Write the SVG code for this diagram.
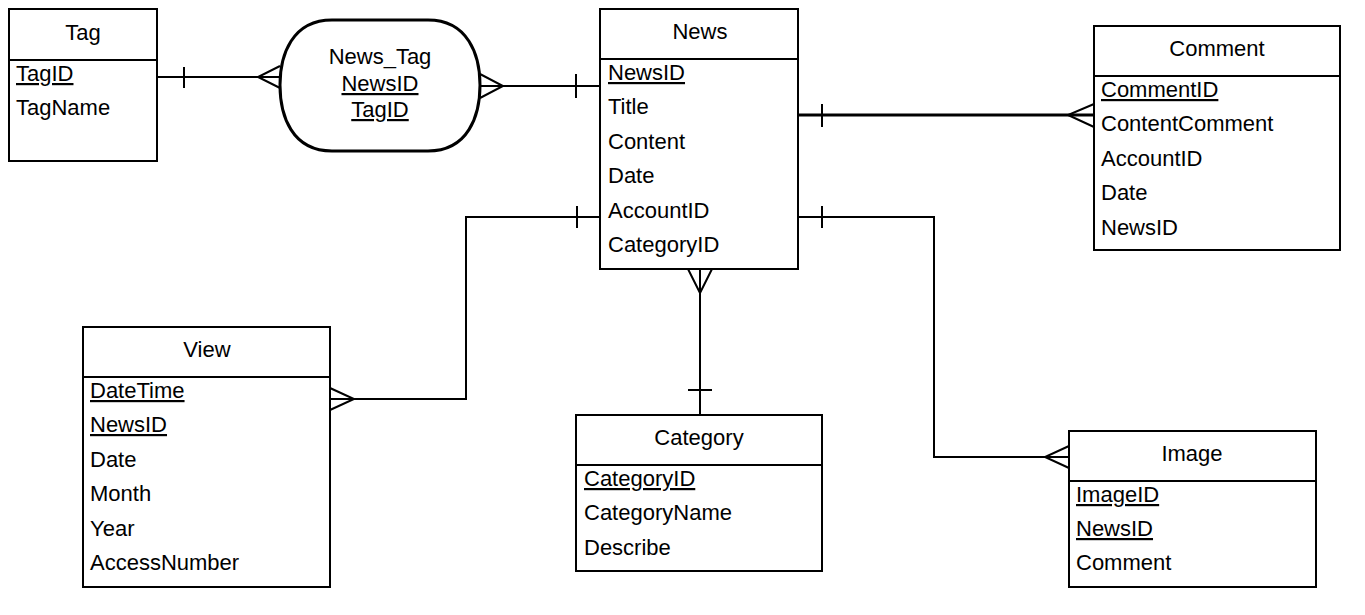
<svg xmlns="http://www.w3.org/2000/svg" width="1365" height="615" viewBox="0 0 1365 615">
<style>
.box{fill:#fff;stroke:#000;stroke-width:2}
.div{stroke:#000;stroke-width:2}
text{font-family:"Liberation Sans",Arial,sans-serif;font-size:22px;fill:#000}
.t{text-anchor:middle}
.u{text-decoration:underline}
.c{fill:none;stroke:#000;stroke-width:2}
.thick{stroke-width:3}
</style>
<g id="connectors">
  <!-- Tag - News_Tag -->
  <path class="c" d="M157,77 H280"/>
  <path class="c" d="M184,67 V88"/>
  <path class="c" d="M280,66 L258,77 L280,88"/>
  <!-- News_Tag - News -->
  <path class="c" d="M480,86 H600"/>
  <path class="c" d="M480,74 L503,86 L480,98"/>
  <path class="c" d="M576,74 V98"/>
  <!-- News - Comment -->
  <path class="c thick" d="M798,115 H1094"/>
  <path class="c" d="M822,104 V127"/>
  <path class="c" d="M1094,104 L1068,115 L1094,127"/>
  <!-- News - View -->
  <path class="c" d="M600,217 H466 V399 H330"/>
  <path class="c" d="M577,206 V228"/>
  <path class="c" d="M330,388 L354,399 L330,410"/>
  <!-- News - Category -->
  <path class="c" d="M700,269 V415"/>
  <path class="c" d="M688,269 L700,293 L712,269"/>
  <path class="c" d="M688,390 H712"/>
  <!-- News - Image -->
  <path class="c" d="M798,217 H934 V457 H1069"/>
  <path class="c" d="M822,206 V228"/>
  <path class="c" d="M1069,446 L1045,457 L1069,468"/>
</g>
<g id="tag">
  <rect class="box" x="9" y="9" width="148" height="152"/>
  <line class="div" x1="9" y1="60" x2="157" y2="60"/>
  <text class="t" x="83" y="40">Tag</text>
  <text class="u" x="16" y="81">TagID</text>
  <text x="16" y="115">TagName</text>
</g>
<g id="news_tag">
  <path d="M332,20 H428 C468,20 480,55 480,85 C480,116 468,151 428,151 H332 C292,151 280,116 280,85 C280,55 292,20 332,20 Z" fill="#fff" stroke="#000" stroke-width="3"/>
  <text class="t" x="380" y="64">News_Tag</text>
  <text class="t u" x="380" y="91">NewsID</text>
  <text class="t u" x="380" y="117">TagID</text>
</g>
<g id="news">
  <rect class="box" x="600" y="9" width="198" height="260"/>
  <line class="div" x1="600" y1="59" x2="798" y2="59"/>
  <text class="t" x="700" y="39">News</text>
  <text class="u" x="608" y="80">NewsID</text>
  <text x="608" y="114">Title</text>
  <text x="608" y="149">Content</text>
  <text x="608" y="183">Date</text>
  <text x="608" y="218">AccountID</text>
  <text x="608" y="252">CategoryID</text>
</g>
<g id="comment">
  <rect class="box" x="1094" y="26" width="246" height="224"/>
  <line class="div" x1="1094" y1="76" x2="1340" y2="76"/>
  <text class="t" x="1217" y="56">Comment</text>
  <text class="u" x="1101" y="97">CommentID</text>
  <text x="1101" y="131">ContentComment</text>
  <text x="1101" y="166">AccountID</text>
  <text x="1101" y="200">Date</text>
  <text x="1101" y="235">NewsID</text>
</g>
<g id="view">
  <rect class="box" x="83" y="327" width="247" height="260"/>
  <line class="div" x1="83" y1="377" x2="330" y2="377"/>
  <text class="t" x="207" y="357">View</text>
  <text class="u" x="90" y="398">DateTime</text>
  <text class="u" x="90" y="432">NewsID</text>
  <text x="90" y="467">Date</text>
  <text x="90" y="501">Month</text>
  <text x="90" y="536">Year</text>
  <text x="90" y="570">AccessNumber</text>
</g>
<g id="category">
  <rect class="box" x="576" y="415" width="246" height="156"/>
  <line class="div" x1="576" y1="465" x2="822" y2="465"/>
  <text class="t" x="699" y="445">Category</text>
  <text class="u" x="584" y="486">CategoryID</text>
  <text x="584" y="520">CategoryName</text>
  <text x="584" y="555">Describe</text>
</g>
<g id="image">
  <rect class="box" x="1069" y="431" width="247" height="156"/>
  <line class="div" x1="1069" y1="481" x2="1316" y2="481"/>
  <text class="t" x="1192" y="461">Image</text>
  <text class="u" x="1076" y="502">ImageID</text>
  <text class="u" x="1076" y="536">NewsID</text>
  <text x="1076" y="570">Comment</text>
</g>
</svg>
